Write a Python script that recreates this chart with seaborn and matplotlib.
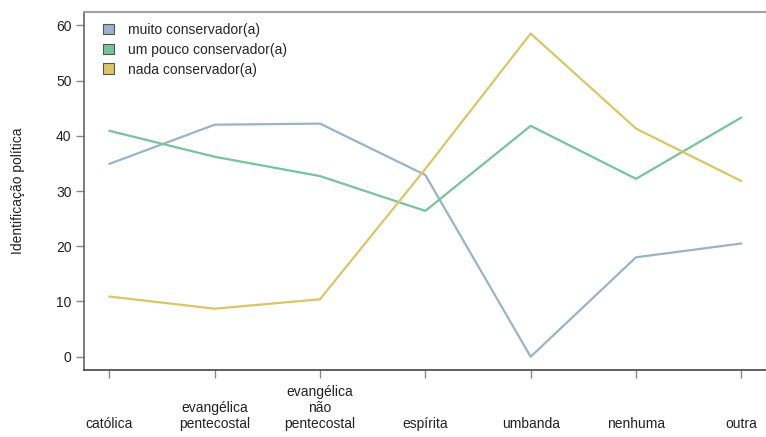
import pandas as pd
import matplotlib
matplotlib.use("Agg")
import matplotlib.pyplot as plt
from matplotlib.patches import Patch
import seaborn as sns

# Categories (religion)
religioes = ["católica", "evangélica\npentecostal", "evangélica\nnão\npentecostal",
             "espírita", "umbanda", "nenhuma", "outra"]
# Series values
muito = [34.9, 42.0, 42.2, 32.9, 0.0, 18.0, 20.5]
um_pouco = [40.9, 36.2, 32.7, 26.4, 41.8, 32.2, 43.3]
nada = [10.9, 8.7, 10.4, 34.0, 58.5, 41.3, 31.8]
series_names = ["muito conservador(a)", "um pouco conservador(a)", "nada conservador(a)"]
cores = ["#9AB3C6", "#78C49A", "#DCC567"]

# long format table
rows = []
for nome, vals in zip(series_names, [muito, um_pouco, nada]):
    for i, v in enumerate(vals):
        rows.append({"pos": i + 1, "religiao": religioes[i], "grupo": nome, "valor": v})
df = pd.DataFrame(rows)

sns.set_style("white")
plt.rcParams['font.family'] = ['Liberation Sans', 'DejaVu Sans']

fig = plt.figure(figsize=(7.66, 4.37), dpi=100)
ax = fig.add_axes([84/766, 1 - 370/437, 690/766, 358/437])

sns.lineplot(data=df, x="pos", y="valor", hue="grupo", palette=cores,
             hue_order=series_names, sort=False, linewidth=1.6, ax=ax, legend=False)

ax.set_xlim(0.76, 7.31)
ax.set_ylim(-2.4, 62.4)
ax.set_yticks(range(0, 61, 10))
ax.set_xticks(range(1, 8))
ax.set_xticklabels(religioes)
for lab in ax.get_xticklabels():
    lab.set_verticalalignment("bottom")
ax.tick_params(axis="x", bottom=True, length=6, width=1, pad=38, color="#888888",
               labelsize=10, labelcolor="#222222")
ax.tick_params(axis="y", left=True, length=6, width=1, pad=3, color="#888888",
               labelsize=10, labelcolor="#222222")
ax.set_xlabel("")
ax.set_ylabel("Identificação política", fontsize=10, color="#222222", labelpad=22)

ax.spines["top"].set_color("#a0a0a0")
ax.spines["top"].set_linewidth(1.5)
ax.spines["right"].set_visible(False)
ax.spines["left"].set_color("#666666")
ax.spines["bottom"].set_color("#444444")
ax.spines["left"].set_linewidth(1.2)
ax.spines["bottom"].set_linewidth(1.2)

handles = [Patch(facecolor=c, edgecolor="#555555", linewidth=0.8) for c in cores]
ax.legend(handles, series_names, loc="upper left", frameon=False, fontsize=10,
          handlelength=0.8, handleheight=0.8, handletextpad=1.0, labelspacing=0.42,
          borderaxespad=0.0, bbox_to_anchor=(0.02, 0.985))

fig.savefig("out.png", dpi=100)
